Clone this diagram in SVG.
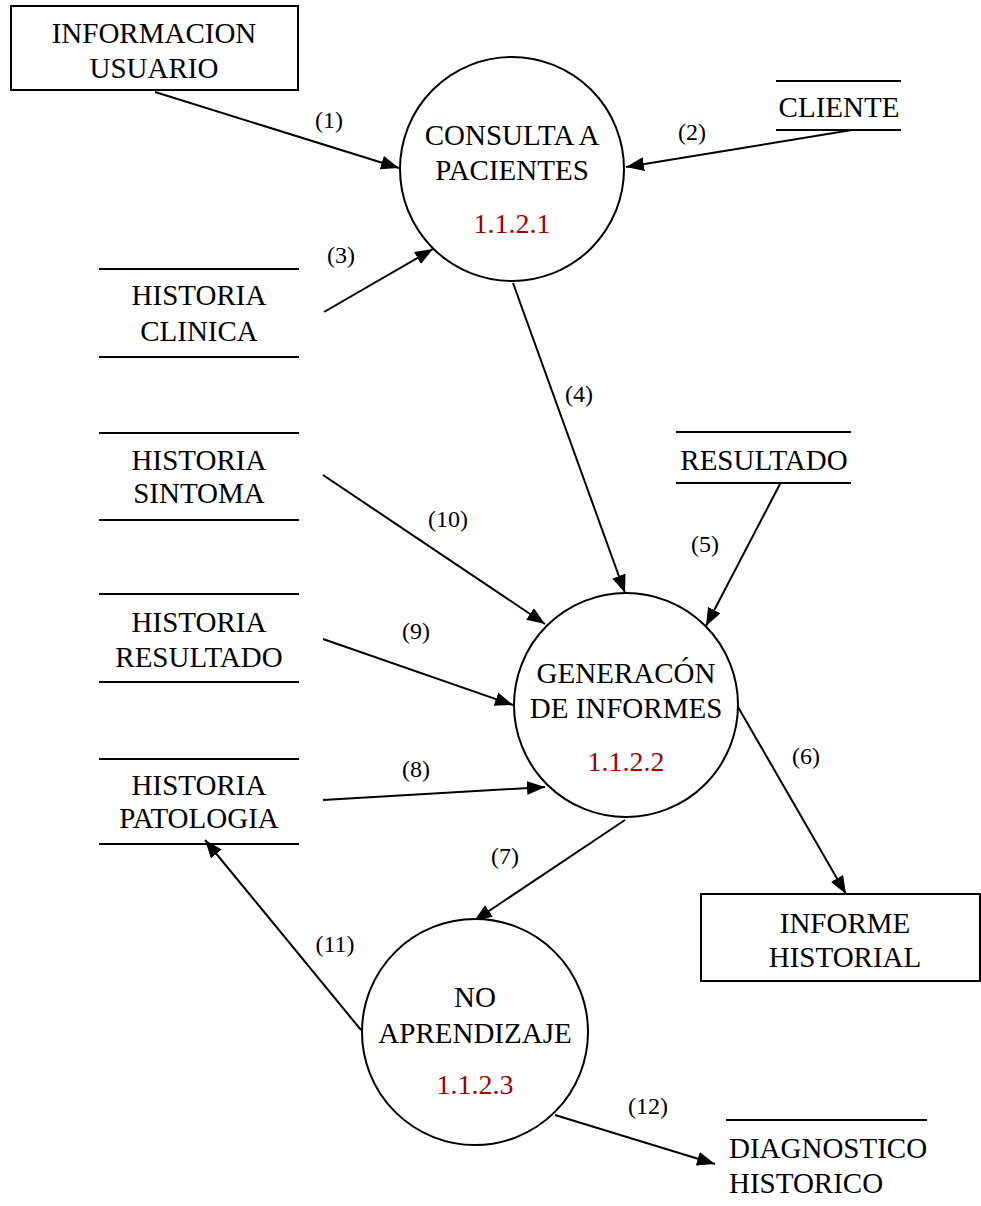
<svg xmlns="http://www.w3.org/2000/svg" width="981" height="1206" viewBox="0 0 981 1206">
<style>
  .t { font-family: "Liberation Serif", "Times New Roman", serif; font-size: 29px; fill: #000; text-anchor: middle; }
  .tl { font-family: "Liberation Serif", "Times New Roman", serif; font-size: 29px; fill: #000; text-anchor: start; }
  .n { font-family: "Liberation Serif", "Times New Roman", serif; font-size: 28px; fill: #A00000; text-anchor: middle; }
  .lb { font-family: "Liberation Serif", "Times New Roman", serif; font-size: 24px; fill: #000; text-anchor: middle; }
  .shape { fill: #fff; stroke: #000; stroke-width: 2; }
  .store { stroke: #000; stroke-width: 2; fill: none; }
  .flow { stroke: #000; stroke-width: 2; fill: none; marker-end: url(#arr); }
</style>
<defs>
  <marker id="arr" markerUnits="userSpaceOnUse" markerWidth="20" markerHeight="16" refX="18" refY="7" orient="auto">
    <path d="M0,0 L18,7 L0,14 z" fill="#000"/>
  </marker>
</defs>
<rect width="981" height="1206" fill="#fff"/>

<g id="connectors">
  <line class="flow" x1="155" y1="92" x2="399" y2="168"/>
  <text class="lb" x="329" y="128">(1)</text>
  <line class="flow" x1="852" y1="130" x2="626" y2="167"/>
  <text class="lb" x="692" y="140">(2)</text>
  <line class="flow" x1="324" y1="312" x2="433" y2="249"/>
  <text class="lb" x="341" y="263">(3)</text>
  <line class="flow" x1="513" y1="283" x2="625" y2="593"/>
  <text class="lb" x="579" y="402">(4)</text>
  <line class="flow" x1="780" y1="484" x2="706" y2="626"/>
  <text class="lb" x="705" y="552">(5)</text>
  <line class="flow" x1="738" y1="707" x2="846" y2="894"/>
  <text class="lb" x="806" y="764">(6)</text>
  <line class="flow" x1="625" y1="820" x2="474" y2="921"/>
  <text class="lb" x="505" y="864">(7)</text>
  <line class="flow" x1="323" y1="800" x2="545" y2="787"/>
  <text class="lb" x="416" y="777">(8)</text>
  <line class="flow" x1="323" y1="639" x2="513" y2="705"/>
  <text class="lb" x="416" y="639">(9)</text>
  <line class="flow" x1="323" y1="475" x2="545" y2="624"/>
  <text class="lb" x="448" y="527">(10)</text>
  <line class="flow" x1="361" y1="1030" x2="205" y2="840"/>
  <text class="lb" x="335" y="952">(11)</text>
  <line class="flow" x1="555" y1="1115" x2="715" y2="1164"/>
  <text class="lb" x="648" y="1114">(12)</text>
</g>

<g id="informacion-usuario">
  <rect class="shape" x="11" y="6" width="287" height="84"/>
  <text class="t" x="154" y="43">INFORMACION</text>
  <text class="t" x="154" y="78">USUARIO</text>
</g>

<g id="consulta-pacientes">
  <circle class="shape" cx="512" cy="169" r="112"/>
  <text class="t" x="512" y="145">CONSULTA A</text>
  <text class="t" x="512" y="180">PACIENTES</text>
  <text class="n" x="512" y="233">1.1.2.1</text>
</g>

<g id="cliente">
  <line class="store" x1="776" y1="81" x2="901" y2="81"/>
  <line class="store" x1="776" y1="130" x2="901" y2="130"/>
  <text class="t" x="839" y="117">CLIENTE</text>
</g>

<g id="historia-clinica">
  <line class="store" x1="99" y1="269" x2="299" y2="269"/>
  <line class="store" x1="99" y1="357" x2="299" y2="357"/>
  <text class="t" x="199" y="305">HISTORIA</text>
  <text class="t" x="199" y="341">CLINICA</text>
</g>

<g id="historia-sintoma">
  <line class="store" x1="99" y1="433" x2="299" y2="433"/>
  <line class="store" x1="99" y1="520" x2="299" y2="520"/>
  <text class="t" x="199" y="470">HISTORIA</text>
  <text class="t" x="199" y="503">SINTOMA</text>
</g>

<g id="historia-resultado">
  <line class="store" x1="99" y1="594" x2="299" y2="594"/>
  <line class="store" x1="99" y1="682" x2="299" y2="682"/>
  <text class="t" x="199" y="632">HISTORIA</text>
  <text class="t" x="199" y="667">RESULTADO</text>
</g>

<g id="historia-patologia">
  <line class="store" x1="99" y1="759" x2="299" y2="759"/>
  <line class="store" x1="99" y1="844" x2="299" y2="844"/>
  <text class="t" x="199" y="795">HISTORIA</text>
  <text class="t" x="199" y="828">PATOLOGIA</text>
</g>

<g id="resultado">
  <line class="store" x1="676" y1="432" x2="851" y2="432"/>
  <line class="store" x1="676" y1="483" x2="851" y2="483"/>
  <text class="t" x="764" y="470">RESULTADO</text>
</g>

<g id="generacion-informes">
  <circle class="shape" cx="626" cy="705" r="112"/>
  <text class="t" x="626" y="683">GENERACÓN</text>
  <text class="t" x="626" y="718">DE INFORMES</text>
  <text class="n" x="626" y="771">1.1.2.2</text>
</g>

<g id="informe-historial">
  <rect class="shape" x="701" y="894" width="279" height="87"/>
  <text class="t" x="845" y="933">INFORME</text>
  <text class="t" x="845" y="967">HISTORIAL</text>
</g>

<g id="no-aprendizaje">
  <circle class="shape" cx="475" cy="1032" r="113"/>
  <text class="t" x="475" y="1007">NO</text>
  <text class="t" x="475" y="1043">APRENDIZAJE</text>
  <text class="n" x="475" y="1094">1.1.2.3</text>
</g>

<g id="diagnostico-historico">
  <line class="store" x1="726" y1="1120" x2="927" y2="1120"/>
  <text class="tl" x="729" y="1158">DIAGNOSTICO</text>
  <text class="tl" x="729" y="1193">HISTORICO</text>
</g>
</svg>
